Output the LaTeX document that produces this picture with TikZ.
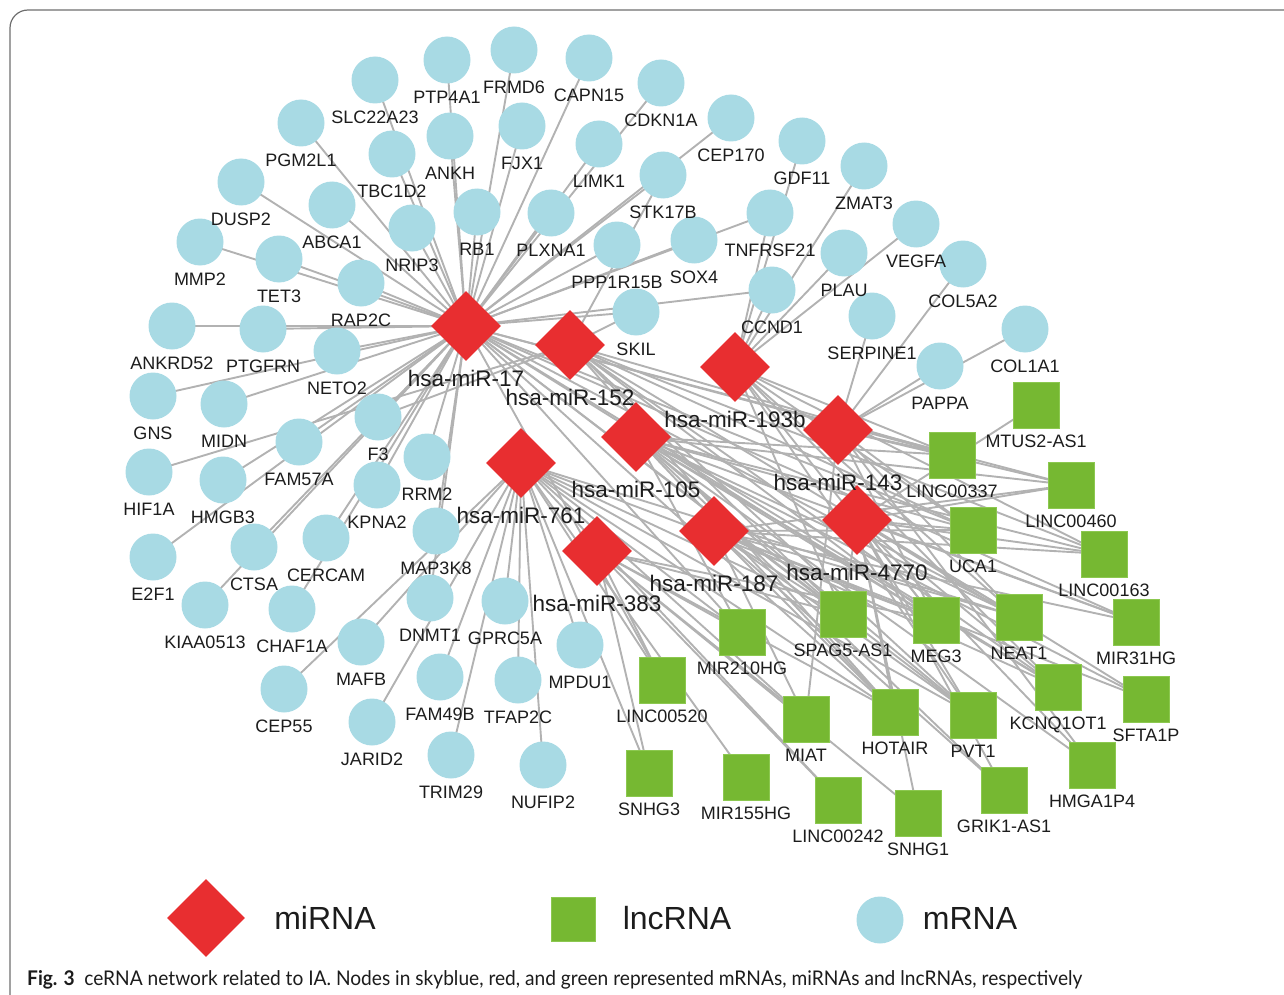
\documentclass[tikz,border=0pt]{standalone}
\usepackage{fontspec}
\setmainfont{Liberation Sans}
\newfontfamily\capfont{Lato}
\usetikzlibrary{shapes.geometric}
\pgfdeclarelayer{bg}
\pgfdeclarelayer{fg}
\pgfsetlayers{bg,main,fg}
\definecolor{mblue}{RGB}{168,218,228}
\definecolor{mred}{RGB}{232,46,48}
\definecolor{mgreen}{RGB}{118,184,50}
\definecolor{egray}{RGB}{178,178,178}
\definecolor{ltext}{RGB}{28,28,28}
\definecolor{framec}{RGB}{110,110,110}
\tikzset{
  mrna/.style={circle, fill=mblue, draw=none, minimum size=47pt, inner sep=0pt},
  lnc/.style={rectangle, fill=mgreen, draw={rgb,255:red,140;green,200;blue,80}, line width=0.6pt, minimum size=46pt, inner sep=0pt},
  mirna/.style={diamond, fill=mred, draw=none, minimum width=70pt, minimum height=70pt, inner sep=0pt},
  lab/.style={anchor=base, inner sep=0pt, text=ltext, font=\fontsize{18}{20}\selectfont},
  mlab/.style={anchor=base, inner sep=0pt, text=ltext, font=\fontsize{22.5}{24}\selectfont},
  leg/.style={anchor=base, inner sep=0pt, text=ltext, font=\fontsize{32}{34}\selectfont},
  edge/.style={draw=egray, line width=1.9pt}
}
\newcommand{\mr}[4]{\node[mrna] (#1) at (#2,#3) {}; \begin{pgfonlayer}{fg}\node[lab] (#1L) at (#2,#3+43.5) {#4};\end{pgfonlayer}}
\newcommand{\lr}[4]{\node[lnc] (#1) at (#2,#3) {}; \begin{pgfonlayer}{fg}\node[lab] (#1L) at (#2,#3+42.5) {#4};\end{pgfonlayer}}
\newcommand{\mi}[4]{\node[mirna] (#1) at (#2,#3) {}; \begin{pgfonlayer}{fg}\node[mlab] (#1L) at (#2,#3+60) {#4};\end{pgfonlayer}}
\begin{document}
\begin{tikzpicture}[x=1pt,y=-1pt]
\useasboundingbox (0,0) rectangle (1284,995);
\draw[framec, line width=1.2pt, rounded corners=18pt] (10,1010) -- (10,10) -- (1300,10);
% mRNAs
\mr{SLC22A23}{375}{80}{SLC22A23}
\mr{PTP4A1}{447}{60}{PTP4A1}
\mr{FRMD6}{514}{50}{FRMD6}
\mr{CAPN15}{589}{58}{CAPN15}
\mr{CDKN1A}{661}{83}{CDKN1A}
\mr{CEP170}{731}{118}{CEP170}
\mr{GDF11}{802}{141}{GDF11}
\mr{ZMAT3}{864}{166}{ZMAT3}
\mr{VEGFA}{916}{224}{VEGFA}
\mr{COL5A2}{963}{264}{COL5A2}
\mr{COL1A1}{1025}{329}{COL1A1}
\mr{PAPPA}{940}{366}{PAPPA}
\mr{SERPINE1}{872}{316}{SERPINE1}
\mr{PLAU}{844}{253}{PLAU}
\mr{CCND1}{772}{290}{CCND1}
\mr{TNFRSF21}{770}{213}{TNFRSF21}
\mr{SOX4}{694}{240}{SOX4}
\mr{PPP1R15B}{617}{245}{PPP1R15B}
\mr{SKIL}{636}{312}{SKIL}
\mr{STK17B}{663}{175}{STK17B}
\mr{PLXNA1}{551}{213}{PLXNA1}
\mr{LIMK1}{599}{144}{LIMK1}
\mr{FJX1}{522}{126}{FJX1}
\mr{ANKH}{450}{136}{ANKH}
\mr{RB1}{477}{212}{RB1}
\mr{TBC1D2}{392}{154}{TBC1D2}
\mr{PGM2L1}{301}{123}{PGM2L1}
\mr{DUSP2}{241}{182}{DUSP2}
\mr{ABCA1}{332}{205}{ABCA1}
\mr{NRIP3}{412}{228}{NRIP3}
\mr{MMP2}{200}{242}{MMP2}
\mr{TET3}{279}{259}{TET3}
\mr{RAP2C}{361}{283}{RAP2C}
\mr{ANKRD52}{172}{326}{ANKRD52}
\mr{PTGFRN}{263}{329}{PTGFRN}
\mr{NETO2}{337}{351}{NETO2}
\mr{GNS}{153}{396}{GNS}
\mr{MIDN}{224}{404}{MIDN}
\mr{F3}{378}{417}{F3}
\mr{FAM57A}{299}{442}{FAM57A}
\mr{RRM2}{427}{457}{RRM2}
\mr{HIF1A}{149}{472}{HIF1A}
\mr{HMGB3}{223}{480}{HMGB3}
\mr{KPNA2}{377}{485}{KPNA2}
\mr{MAP3K8}{436}{531}{MAP3K8}
\mr{CERCAM}{326}{538}{CERCAM}
\mr{CTSA}{254}{547}{CTSA}
\mr{E2F1}{153}{557}{E2F1}
\mr{KIAA0513}{205}{605}{KIAA0513}
\mr{CHAF1A}{292}{609}{CHAF1A}
\mr{DNMT1}{430}{598}{DNMT1}
\mr{GPRC5A}{505}{601}{GPRC5A}
\mr{MAFB}{361}{642}{MAFB}
\mr{MPDU1}{580}{645}{MPDU1}
\mr{CEP55}{284}{689}{CEP55}
\mr{FAM49B}{440}{677}{FAM49B}
\mr{TFAP2C}{518}{680}{TFAP2C}
\mr{JARID2}{372}{722}{JARID2}
\mr{TRIM29}{451}{755}{TRIM29}
\mr{NUFIP2}{543}{765}{NUFIP2}
% lncRNAs
\lr{MTUS2AS1}{1036}{405}{MTUS2-AS1}
\lr{LINC00337}{952}{455}{LINC00337}
\lr{LINC00460}{1071}{485}{LINC00460}
\lr{UCA1}{973}{530}{UCA1}
\lr{LINC00163}{1104}{554}{LINC00163}
\lr{SPAG5AS1}{843}{614}{SPAG5-AS1}
\lr{MEG3}{936}{620}{MEG3}
\lr{NEAT1}{1019}{617}{NEAT1}
\lr{MIR31HG}{1136}{622}{MIR31HG}
\lr{MIR210HG}{742}{632}{MIR210HG}
\lr{LINC00520}{662}{680}{LINC00520}
\lr{KCNQ1OT1}{1058}{687}{KCNQ1OT1}
\lr{SFTA1P}{1146}{699}{SFTA1P}
\lr{MIAT}{806}{719}{MIAT}
\lr{HOTAIR}{895}{712}{HOTAIR}
\lr{PVT1}{973}{715}{PVT1}
\lr{HMGA1P4}{1092}{765}{HMGA1P4}
\lr{SNHG3}{649}{773}{SNHG3}
\lr{MIR155HG}{746}{777}{MIR155HG}
\lr{LINC00242}{838}{800}{LINC00242}
\lr{SNHG1}{918}{813}{SNHG1}
\lr{GRIK1AS1}{1004}{790}{GRIK1-AS1}
% miRNAs
\mi{m17}{466}{326}{hsa-miR-17}
\mi{m152}{570}{345}{hsa-miR-152}
\mi{m193b}{735}{367}{hsa-miR-193b}
\mi{m105}{636}{437}{hsa-miR-105}
\mi{m143}{838}{430}{hsa-miR-143}
\mi{m761}{521}{463}{hsa-miR-761}
\mi{m187}{714}{531}{hsa-miR-187}
\mi{m4770}{857}{520}{hsa-miR-4770}
\mi{m383}{597}{551}{hsa-miR-383}
% edges
\begin{pgfonlayer}{bg}
\foreach \m/\lst in {
 m17/{SLC22A23,PTP4A1,FRMD6,CAPN15,CDKN1A,CEP170,STK17B,SOX4,TNFRSF21,CCND1,PPP1R15B,SKIL,PLXNA1,LIMK1,FJX1,ANKH,RB1,TBC1D2,PGM2L1,DUSP2,ABCA1,NRIP3,MMP2,TET3,RAP2C,ANKRD52,PTGFRN,NETO2,GNS,MIDN,F3,FAM57A,RRM2,HMGB3,KPNA2,E2F1,CTSA,CERCAM,KIAA0513,CHAF1A,MAP3K8,DNMT1,LINC00337,LINC00460,KCNQ1OT1,NEAT1,MEG3,UCA1,PVT1,LINC00520,MIR210HG,SPAG5AS1,HOTAIR,MIR31HG},
 m152/{SKIL,STK17B,HIF1A,F3,LINC00163,NEAT1,UCA1,HOTAIR,SPAG5AS1,MEG3,KCNQ1OT1,PVT1,LINC00337},
 m193b/{GDF11,TNFRSF21,CCND1,ZMAT3,PLAU,VEGFA,LINC00337,KCNQ1OT1,NEAT1,MEG3,UCA1,LINC00163,SPAG5AS1,PVT1},
 m143/{COL5A2,COL1A1,PAPPA,SERPINE1,LINC00337,LINC00460,HMGA1P4,NEAT1,MEG3,UCA1,MIAT},
 m761/{CEP55,MAFB,JARID2,FAM49B,TRIM29,TFAP2C,NUFIP2,GPRC5A,MPDU1,HOTAIR,LINC00242,MIAT,MIR155HG,SNHG3,LINC00520,MIR210HG,SPAG5AS1,MEG3,NEAT1,PVT1},
 m105/{LINC00337,LINC00163,MIR31HG,KCNQ1OT1,GRIK1AS1,NEAT1,MEG3,UCA1,PVT1,HOTAIR,MIR210HG,SPAG5AS1,LINC00460,SFTA1P,HMGA1P4},
 m187/{LINC00460,MIR31HG,SFTA1P,KCNQ1OT1,GRIK1AS1,NEAT1,MEG3,PVT1,HOTAIR,MIAT,SPAG5AS1,UCA1,LINC00163},
 m4770/{MTUS2AS1,LINC00163,SFTA1P,HMGA1P4,KCNQ1OT1,NEAT1,MEG3,UCA1,PVT1,HOTAIR,SNHG1,GRIK1AS1,SPAG5AS1,MIR31HG,LINC00460},
 m383/{SNHG1,LINC00242,MIAT,SNHG3,LINC00520,MIR210HG,SPAG5AS1,HOTAIR,MEG3}}
 {\foreach \t in \lst {\draw[edge] (\m.center) -- (\t.center);}}
\end{pgfonlayer}
% legend
\node[mirna, minimum width=78pt, minimum height=78pt] (legmi) at (206,918) {};
\node[leg] (legmit) at (325,929) {miRNA};
\node[lnc, minimum size=44pt] (leglnc) at (573,919) {};
\node[leg] (leglnct) at (677,929) {lncRNA};
\node[mrna] (legmr) at (880,920) {};
\node[leg] (legmrt) at (970,929) {mRNA};
% caption
\node[anchor=base west, inner sep=0pt, text=ltext] (cap) at (27,985) {\resizebox{1055pt}{15pt}{\capfont\textbf{Fig. 3}\hspace{0.5em}ceRNA network related to IA. Nodes in skyblue, red, and green represented mRNAs, miRNAs and lncRNAs, respectively}};
\end{tikzpicture}
\end{document}
